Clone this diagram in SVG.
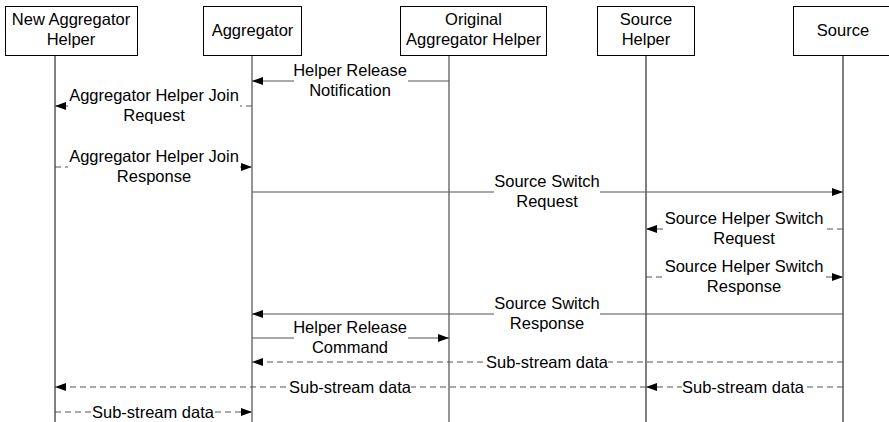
<svg xmlns="http://www.w3.org/2000/svg" width="889" height="422" viewBox="0 0 889 422">
  <style>
    .box { fill: #ffffff; stroke: #000000; stroke-width: 1; }
    .life { stroke: #000000; stroke-width: 1; fill: none; }
    .life-g { stroke: #707070; stroke-width: 1.5; fill: none; }
    .msg { stroke: #555555; stroke-width: 1.2; fill: none; }
    .dash { stroke: #555555; stroke-width: 1.2; fill: none; stroke-dasharray: 6 4; }
    .t { font-family: "Liberation Sans", Arial, sans-serif; font-size: 16.5px; fill: #000000; text-anchor: middle; }
    .bg { fill: #ffffff; }
  </style>
  <defs>
    <marker id="arr" markerWidth="11" markerHeight="8" refX="11" refY="4" orient="auto" markerUnits="userSpaceOnUse">
      <path d="M0,0 L11,4 L0,8 Z" fill="#000000"/>
    </marker>
  </defs>
  <rect width="889" height="422" fill="#ffffff"/>

  <!-- participants -->
  <g id="new-aggregator-helper">
    <line class="life" x1="55" y1="55" x2="55" y2="422"/>
    <rect class="box" x="5.5" y="6.5" width="132" height="49"/>
    <text class="t" x="71" y="25">New Aggregator</text>
    <text class="t" x="71" y="45">Helper</text>
  </g>
  <g id="aggregator">
    <line class="life-g" x1="252" y1="55" x2="252" y2="422"/>
    <rect class="box" x="203.5" y="6.5" width="98" height="49"/>
    <text class="t" x="252.5" y="36">Aggregator</text>
  </g>
  <g id="original-aggregator-helper">
    <line class="life-g" x1="449" y1="55" x2="449" y2="422"/>
    <rect class="box" x="400.5" y="6.5" width="146" height="49"/>
    <text class="t" x="473.5" y="25">Original</text>
    <text class="t" x="473.5" y="45">Aggregator Helper</text>
  </g>
  <g id="source-helper">
    <line class="life" x1="646" y1="55" x2="646" y2="422"/>
    <rect class="box" x="597.5" y="6.5" width="97" height="49"/>
    <text class="t" x="646" y="25">Source</text>
    <text class="t" x="646" y="45">Helper</text>
  </g>
  <g id="source">
    <line class="life" x1="843" y1="55" x2="843" y2="422"/>
    <rect class="box" x="793.5" y="6.5" width="100" height="49"/>
    <text class="t" x="843" y="36">Source</text>
  </g>

  <!-- messages -->
  <g id="connectors">
    <!-- Helper Release Notification -->
    <line class="msg" x1="449" y1="81" x2="252" y2="81" marker-end="url(#arr)"/>
    <rect class="bg" x="294" y="63" width="114" height="36"/>
    <text class="t" x="350" y="76">Helper Release</text>
    <text class="t" x="350" y="96">Notification</text>

    <!-- Aggregator Helper Join Request -->
    <line class="dash" x1="252" y1="106" x2="55" y2="106" marker-end="url(#arr)"/>
    <rect class="bg" x="68" y="88" width="172" height="36"/>
    <text class="t" x="154" y="101">Aggregator Helper Join</text>
    <text class="t" x="154" y="121">Request</text>

    <!-- Aggregator Helper Join Response -->
    <line class="dash" x1="55" y1="167" x2="252" y2="167" marker-end="url(#arr)"/>
    <rect class="bg" x="68" y="149" width="172" height="36"/>
    <text class="t" x="154" y="162">Aggregator Helper Join</text>
    <text class="t" x="154" y="182">Response</text>

    <!-- Source Switch Request -->
    <line class="msg" x1="252" y1="192" x2="843" y2="192" marker-end="url(#arr)"/>
    <rect class="bg" x="494" y="174" width="106" height="36"/>
    <text class="t" x="547" y="187">Source Switch</text>
    <text class="t" x="547" y="207">Request</text>

    <!-- Source Helper Switch Request -->
    <line class="dash" x1="843" y1="229" x2="646" y2="229" marker-end="url(#arr)"/>
    <rect class="bg" x="664" y="211" width="160" height="36"/>
    <text class="t" x="744" y="224">Source Helper Switch</text>
    <text class="t" x="744" y="244">Request</text>

    <!-- Source Helper Switch Response -->
    <line class="dash" x1="646" y1="277" x2="843" y2="277" marker-end="url(#arr)"/>
    <rect class="bg" x="664" y="259" width="160" height="36"/>
    <text class="t" x="744" y="272">Source Helper Switch</text>
    <text class="t" x="744" y="292">Response</text>

    <!-- Source Switch Response -->
    <line class="msg" x1="843" y1="314" x2="252" y2="314" marker-end="url(#arr)"/>
    <rect class="bg" x="494" y="296" width="106" height="36"/>
    <text class="t" x="547" y="309">Source Switch</text>
    <text class="t" x="547" y="329">Response</text>

    <!-- Helper Release Command -->
    <line class="msg" x1="252" y1="338" x2="449" y2="338" marker-end="url(#arr)"/>
    <rect class="bg" x="294" y="320" width="114" height="36"/>
    <text class="t" x="350" y="333">Helper Release</text>
    <text class="t" x="350" y="353">Command</text>

    <!-- Sub-stream data: Source to Aggregator -->
    <line class="dash" x1="843" y1="362" x2="252" y2="362" marker-end="url(#arr)"/>
    <rect class="bg" x="486" y="354" width="122" height="16"/>
    <text class="t" x="547" y="368">Sub-stream data</text>

    <!-- Sub-stream data: Source Helper to New Aggregator Helper -->
    <line class="dash" x1="646" y1="387" x2="55" y2="387" marker-end="url(#arr)"/>
    <rect class="bg" x="289" y="379" width="122" height="16"/>
    <text class="t" x="350" y="393">Sub-stream data</text>

    <!-- Sub-stream data: Source to Source Helper -->
    <line class="dash" x1="843" y1="387" x2="646" y2="387" marker-end="url(#arr)"/>
    <rect class="bg" x="682" y="379" width="122" height="16"/>
    <text class="t" x="743" y="393">Sub-stream data</text>

    <!-- Sub-stream data: New Aggregator Helper to Aggregator -->
    <line class="dash" x1="55" y1="412" x2="252" y2="412" marker-end="url(#arr)"/>
    <rect class="bg" x="92" y="404" width="122" height="16"/>
    <text class="t" x="153" y="418">Sub-stream data</text>
  </g>
</svg>
